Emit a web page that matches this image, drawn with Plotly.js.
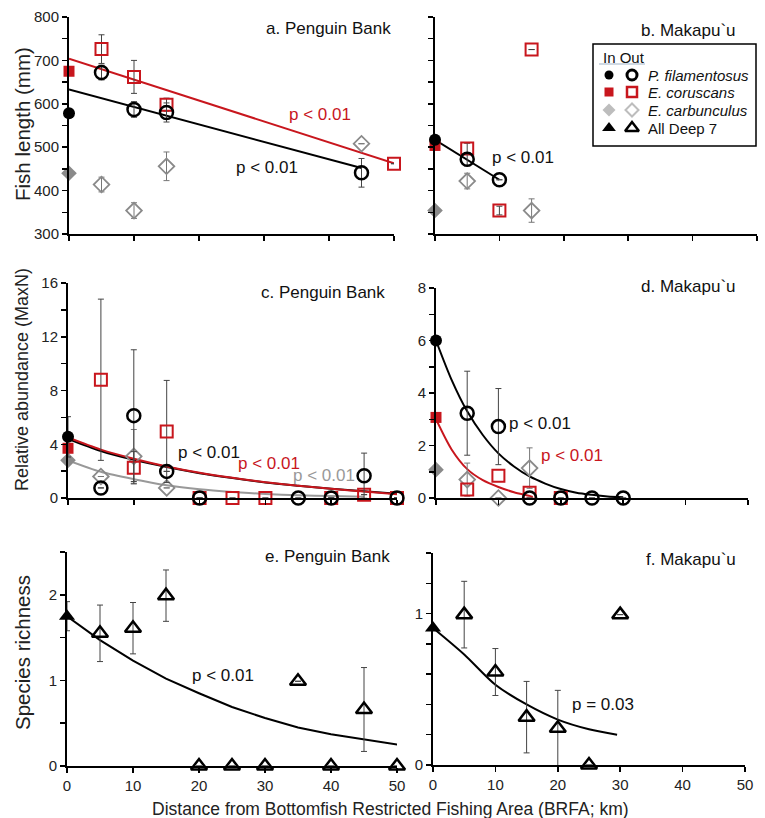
<!DOCTYPE html>
<html>
<head>
<meta charset="utf-8">
<script src="https://cdn.plot.ly/plotly-3.0.1.min.js"></script>
<style>html,body{margin:0;padding:0;background:#fff;}#chart{width:765px;height:818px;}</style>
</head>
<body>
<div id="chart"></div>
<script>
// ---------------- DATA ----------------
// Panel a: Penguin Bank, fish length (mm)
const aFilInX = [0], aFilInY = [578];
const aFilOutX = [5, 10, 15, 45], aFilOutY = [672, 587, 580, 441], aFilOutErr = [17, 18, 22, 33];
const aCorInX = [0], aCorInY = [675];
const aCorOutX = [5, 10, 15, 50], aCorOutY = [726, 662, 598, 462], aCorOutErr = [33, 38, 15, null];
const aCarInX = [0], aCarInY = [440];
const aCarOutX = [5, 10, 15, 45], aCarOutY = [414, 354, 456, 508], aCarOutErr = [17, 18, 33, null];
const aFilFitX = [0, 45], aFilFitY = [633, 452];
const aCorFitX = [0, 50], aCorFitY = [704, 463];

// Panel b: Makapu`u, fish length (mm)
const bFilInX = [0], bFilInY = [517];
const bFilOutX = [5, 10], bFilOutY = [472, 425], bFilOutErr = [15, null];
const bCorInX = [0], bCorInY = [504];
const bCorOutX = [5, 10, 15], bCorOutY = [497, 354, 725], bCorOutErr = [12, 10, null];
const bCarInX = [0], bCarInY = [354];
const bCarOutX = [5, 15], bCarOutY = [422, 354], bCarOutErr = [18, 27];
const bFilFitX = [0, 10], bFilFitY = [517, 425];

// Panel c: Penguin Bank, relative abundance (MaxN)
const cFilInX = [0], cFilInY = [4.55], cFilInErr = [1.5];
const cFilOutX = [5, 10, 15, 20, 35, 40, 45, 50], cFilOutY = [0.75, 6.13, 1.98, 0, 0, 0, 1.66, 0];
const cFilOutErr = [null, 4.9, null, null, null, null, 1.68, null];
const cCorInX = [0], cCorInY = [3.7];
const cCorOutX = [5, 10, 15, 20, 25, 30, 40, 45, 50], cCorOutY = [8.8, 2.25, 4.95, 0, 0, 0, 0, 0.25, 0];
const cCorOutErr = [6.0, 1.2, 3.8, null, null, null, null, null, null];
const cCarInX = [0], cCarInY = [2.8];
const cCarOutX = [5, 10, 15], cCarOutY = [1.6, 3.1, 0.75], cCarOutErr = [null, 2.0, null];
const cFitX = [0, 5, 10, 15, 20, 25, 30, 35, 40, 45, 50];
const cFilFitY = [4.4, 3.5, 2.84, 2.3, 1.85, 1.48, 1.16, 0.91, 0.68, 0.5, 0.32];
const cCorFitY = [4.5, 3.6, 2.92, 2.35, 1.88, 1.5, 1.18, 0.92, 0.68, 0.48, 0.28];
const cCarFitX = [0, 5, 10, 15, 20, 25, 30, 35, 40, 45];
const cCarFitY = [2.8, 1.95, 1.4, 0.95, 0.65, 0.45, 0.3, 0.2, 0.14, 0.1];

// Panel d: Makapu`u, relative abundance (MaxN)
const dFilInX = [0], dFilInY = [6.0];
const dFilOutX = [5, 10, 15, 20, 25, 30], dFilOutY = [3.23, 2.72, 0, 0, 0, 0];
const dFilOutErr = [1.6, 1.45, null, null, null, null];
const dCorInX = [0], dCorInY = [3.07];
const dCorOutX = [5, 10, 15, 20], dCorOutY = [0.32, 0.85, 0.2, 0];
const dCarInX = [0], dCarInY = [1.08];
const dCarOutX = [5, 10, 15], dCarOutY = [0.7, 0, 1.14], dCarOutErr = [0.63, null, 0.77];
const dFilFitX = [0, 2.5, 5, 7.5, 10, 12.5, 15, 17.5, 20, 22.5, 25, 27.5, 30];
const dFilFitY = [6.0, 4.5, 3.3, 2.4, 1.7, 1.2, 0.82, 0.55, 0.34, 0.2, 0.12, 0.06, 0.03];
const dCorFitX = [0, 2.5, 5, 7.5, 10, 12.5, 15, 15.5];
const dCorFitY = [3.0, 1.85, 1.1, 0.68, 0.42, 0.22, 0.08, 0.04];

// Panel e: Penguin Bank, species richness (All Deep 7)
const eInX = [0], eInY = [1.75], eInErr = [0.17];
const eOutX = [5, 10, 15, 20, 25, 30, 35, 40, 45, 50];
const eOutY = [1.55, 1.61, 1.99, 0, 0, 0, 0.99, 0, 0.66, 0];
const eOutErr = [0.33, 0.3, 0.3, null, null, null, null, null, 0.49, null];
const eFitX = [0, 5, 10, 15, 20, 25, 30, 35, 40, 45, 51];
const eFitY = [1.75, 1.47, 1.23, 1.02, 0.85, 0.69, 0.56, 0.45, 0.37, 0.31, 0.24];

// Panel f: Makapu`u, species richness (All Deep 7)
const fInX = [0], fInY = [0.905];
const fOutX = [5, 10, 15, 20, 25, 30], fOutY = [0.993, 0.614, 0.316, 0.243, 0, 0.993];
const fOutErr = [0.22, 0.155, 0.236, 0.25, null, null];
const fFitX = [0, 5, 10, 15, 20, 25, 29.5];
const fFitY = [0.905, 0.73, 0.53, 0.4, 0.3, 0.236, 0.2];

// Tick values / labels
const xTicks = [0, 10, 20, 30, 40, 50];
const lenTicks = [300, 350, 400, 450, 500, 550, 600, 650, 700, 750, 800];
const lenLabels = ['300', '', '400', '', '500', '', '600', '', '700', '', '800'];
const cTicks = [0, 2, 4, 6, 8, 10, 12, 14, 16];
const cLabels = ['0', '', '4', '', '8', '', '12', '', '16'];
const dTicks = [0, 1, 2, 3, 4, 5, 6, 7, 8];
const dLabels = ['0', '', '2', '', '4', '', '6', '', '8'];
const eTicks = [0, 0.5, 1, 1.5, 2, 2.5];
const eLabels = ['0', '', '1', '', '2', ''];
const fTicks = [0, 0.2, 0.4, 0.6, 0.8, 1.0, 1.2, 1.4];
const fLabels = ['0', '', '', '', '', '1', '', ''];

const legendRows = ['P. filamentosus', 'E. coruscans', 'E. carbunculus', 'All Deep 7'];

// ---------------- STYLE ----------------
const W = 765, H = 818;
const FONT = 'Liberation Sans, Arial, Helvetica, sans-serif';
const RED = '#c8161d';
const GREY = '#8a8a8a';
const LGREY = '#bdbdbd';
const px = x => x / W;
const py = y => 1 - y / H;

const S = {
  filIn: {symbol: 'circle', size: 12, color: '#000'},
  filOut: {symbol: 'circle-open', size: 13, color: '#000', line: {width: 2.5}},
  corIn: {symbol: 'square', size: 11, color: RED},
  corOut: {symbol: 'square-open', size: 12, color: RED, line: {width: 2}},
  carIn: {symbol: 'diamond', size: 12, color: GREY},
  carOut: {symbol: 'diamond-open', size: 12, color: GREY, line: {width: 1.8}},
  d7In: {symbol: 'triangle-up', size: 14, color: '#000'},
  d7Out: {symbol: 'triangle-up-open', size: 14, color: '#000', line: {width: 2.5}}
};

function pts(n, x, y, err, marker, errColor) {
  const t = {
    type: 'scatter', mode: 'markers', x: x, y: y, xaxis: 'x' + n, yaxis: 'y' + n,
    marker: marker, cliponaxis: false, showlegend: false, hoverinfo: 'x+y'
  };
  if (err) t.error_y = {type: 'data', array: err, visible: true, color: errColor || '#444', thickness: 1, width: 3};
  return t;
}
function fit(n, x, y, color, shape) {
  return {type: 'scatter', mode: 'lines', x: x, y: y, xaxis: 'x' + n, yaxis: 'y' + n,
    line: {color: color, width: 2, shape: shape || 'linear', smoothing: 0.8},
    cliponaxis: false, showlegend: false, hoverinfo: 'skip'};
}

const traces = [
  // a
  fit('', aFilFitX, aFilFitY, '#000'), fit('', aCorFitX, aCorFitY, RED),
  pts('', aCarInX, aCarInY, null, S.carIn), pts('', aCarOutX, aCarOutY, aCarOutErr, S.carOut, '#777'),
  pts('', aCorInX, aCorInY, null, S.corIn), pts('', aCorOutX, aCorOutY, aCorOutErr, S.corOut),
  pts('', aFilInX, aFilInY, null, S.filIn), pts('', aFilOutX, aFilOutY, aFilOutErr, S.filOut),
  // b
  fit('2', bFilFitX, bFilFitY, '#000'),
  pts('2', bCarInX, bCarInY, null, S.carIn), pts('2', bCarOutX, bCarOutY, bCarOutErr, S.carOut, '#777'),
  pts('2', bCorInX, bCorInY, null, S.corIn), pts('2', bCorOutX, bCorOutY, bCorOutErr, S.corOut),
  pts('2', bFilInX, bFilInY, null, S.filIn), pts('2', bFilOutX, bFilOutY, bFilOutErr, S.filOut),
  // c
  fit('3', cCarFitX, cCarFitY, '#999', 'spline'), fit('3', cFitX, cFilFitY, '#000', 'spline'), fit('3', cFitX, cCorFitY, RED, 'spline'),
  pts('3', cCarInX, cCarInY, null, S.carIn), pts('3', cCarOutX, cCarOutY, cCarOutErr, S.carOut, '#777'),
  pts('3', cCorInX, cCorInY, null, S.corIn), pts('3', cCorOutX, cCorOutY, cCorOutErr, S.corOut),
  pts('3', cFilInX, cFilInY, cFilInErr, S.filIn), pts('3', cFilOutX, cFilOutY, cFilOutErr, S.filOut),
  // d
  fit('4', dFilFitX, dFilFitY, '#000', 'spline'), fit('4', dCorFitX, dCorFitY, RED, 'spline'),
  pts('4', dCarInX, dCarInY, null, S.carIn), pts('4', dCarOutX, dCarOutY, dCarOutErr, S.carOut, '#777'),
  pts('4', dCorInX, dCorInY, null, S.corIn), pts('4', dCorOutX, dCorOutY, null, S.corOut),
  pts('4', dFilInX, dFilInY, null, S.filIn), pts('4', dFilOutX, dFilOutY, dFilOutErr, S.filOut),
  // e
  fit('5', eFitX, eFitY, '#000'),
  pts('5', eInX, eInY, eInErr, S.d7In), pts('5', eOutX, eOutY, eOutErr, S.d7Out),
  // f
  fit('6', fFitX, fFitY, '#000', 'spline'),
  pts('6', fInX, fInY, null, S.d7In), pts('6', fOutX, fOutY, fOutErr, S.d7Out)
];

// Legend symbols (drawn on a hidden helper axis, positions in pixel units of the legend box)
const LX0 = 593, LX1 = 756, LY0 = 44, LY1 = 146;
const rowY = [75, 92, 110, 128];
const inCol = 609, outCol = 632;
const legIn = [
  {symbol: 'circle', size: 9, color: '#000'},
  {symbol: 'square', size: 9, color: RED},
  {symbol: 'diamond', size: 10, color: LGREY},
  {symbol: 'triangle-up', size: 12, color: '#000'}
];
const legOut = [
  {symbol: 'circle-open', size: 10, color: '#000', line: {width: 3}},
  {symbol: 'square-open', size: 10, color: RED, line: {width: 2.5}},
  {symbol: 'diamond-open', size: 10, color: LGREY, line: {width: 2}},
  {symbol: 'triangle-up-open', size: 12, color: '#000', line: {width: 2.5}}
];
legendRows.forEach((name, i) => {
  traces.push({type: 'scatter', mode: 'markers', x: [inCol], y: [rowY[i]], xaxis: 'x7', yaxis: 'y7',
    marker: legIn[i], showlegend: false, hoverinfo: 'skip', cliponaxis: false});
  traces.push({type: 'scatter', mode: 'markers', x: [outCol], y: [rowY[i]], xaxis: 'x7', yaxis: 'y7',
    marker: legOut[i], showlegend: false, hoverinfo: 'skip', cliponaxis: false});
});

function xax(x0, x1, anchor, labels) {
  return {domain: [px(x0), px(x1)], range: [0, 50], anchor: anchor, tickvals: xTicks,
    showticklabels: labels, ticks: 'outside', ticklen: 5, tickwidth: 1.5, tickcolor: '#000',
    showline: true, linewidth: 2, linecolor: '#000', showgrid: false, zeroline: false,
    tickfont: {family: FONT, size: 15, color: '#222'}};
}
function yax(y0, y1, anchor, range, vals, text) {
  const a = {domain: [py(y1), py(y0)], range: range, anchor: anchor, tickvals: vals,
    ticks: 'outside', ticklen: 5, tickwidth: 1.5, tickcolor: '#000',
    showline: true, linewidth: 2, linecolor: '#000', showgrid: false, zeroline: false,
    tickfont: {family: FONT, size: 15, color: '#222'}};
  if (text) a.ticktext = text; else a.showticklabels = false;
  return a;
}

function ann(x, y, text, opts) {
  return Object.assign({xref: 'paper', yref: 'paper', x: px(x), y: py(y), text: text, showarrow: false,
    xanchor: 'center', yanchor: 'middle', font: {family: FONT, size: 17, color: '#111'}}, opts || {});
}

const annotations = [
  ann(393, 28, 'a. Penguin Bank', {xanchor: 'right'}),
  ann(738, 30, 'b. Makapu`u', {xanchor: 'right'}),
  ann(387, 292, 'c. Penguin Bank', {xanchor: 'right'}),
  ann(738, 287, 'd. Makapu`u', {xanchor: 'right'}),
  ann(392, 556, 'e. Penguin Bank', {xanchor: 'right'}),
  ann(738, 559, 'f. Makapu`u', {xanchor: 'right'}),
  ann(320, 115, 'p < 0.01', {font: {family: FONT, size: 17, color: RED}}),
  ann(267, 167, 'p < 0.01'),
  ann(523, 158, 'p < 0.01'),
  ann(209, 452, 'p < 0.01'),
  ann(269, 463, 'p < 0.01', {font: {family: FONT, size: 17, color: RED}}),
  ann(324, 475, 'p < 0.01', {font: {family: FONT, size: 17, color: '#999'}}),
  ann(540, 423, 'p < 0.01'),
  ann(572, 455, 'p < 0.01', {font: {family: FONT, size: 17, color: RED}}),
  ann(223, 675, 'p < 0.01'),
  ann(603, 704, 'p = 0.03'),
  ann(22, 124, 'Fish length (mm)', {textangle: -90, font: {family: FONT, size: 20.5, color: '#222'}}),
  ann(22, 380, 'Relative abundance (MaxN)', {textangle: -90, font: {family: FONT, size: 18, color: '#222'}}),
  ann(22, 653, 'Species richness', {textangle: -90, font: {family: FONT, size: 20.5, color: '#222'}}),
  ann(390, 809, 'Distance from Bottomfish Restricted Fishing Area (BRFA; km)', {font: {family: FONT, size: 17.5, color: '#222'}})
];
// Legend texts
annotations.push({xref: 'x7', yref: 'y7', x: 601, y: 57, text: 'In Out', showarrow: false,
  xanchor: 'left', yanchor: 'middle', font: {family: FONT, size: 15, color: '#111'}});
legendRows.forEach((name, i) => {
  annotations.push({xref: 'x7', yref: 'y7', x: 646, y: rowY[i], text: i < 3 ? '<i>' + name + '</i>' : name,
    showarrow: false, xanchor: 'left', yanchor: 'middle', font: {family: FONT, size: 15, color: '#111'}});
});

const shapes = [
  {type: 'rect', xref: 'paper', yref: 'paper', x0: px(LX0), x1: px(LX1), y0: py(LY1), y1: py(LY0),
    line: {color: '#000', width: 1.5}, fillcolor: 'rgba(255,255,255,0)'},
  {type: 'line', xref: 'paper', yref: 'paper', x0: px(599), x1: px(645), y0: py(64), y1: py(64),
    line: {color: '#9fb3c8', width: 1}}
];

const layout = {
  width: W, height: H, margin: {l: 0, r: 0, t: 0, b: 0},
  paper_bgcolor: '#fff', plot_bgcolor: 'rgba(0,0,0,0)', showlegend: false,
  font: {family: FONT},
  xaxis: xax(69, 394, 'y', false),
  yaxis: yax(17, 234, 'x', [300, 800], lenTicks, lenLabels),
  xaxis2: xax(435, 757, 'y2', false),
  yaxis2: yax(17, 234, 'x2', [300, 800], lenTicks, null),
  xaxis3: xax(68, 397, 'y3', false),
  yaxis3: yax(283, 498, 'x3', [0, 16], cTicks, cLabels),
  xaxis4: xax(436, 748, 'y4', false),
  yaxis4: yax(288, 498, 'x4', [0, 8], dTicks, dLabels),
  xaxis5: xax(67, 397, 'y5', true),
  yaxis5: yax(552, 766, 'x5', [0, 2.5], eTicks, eLabels),
  xaxis6: xax(433, 745, 'y6', true),
  yaxis6: yax(553, 765, 'x6', [0, 1.4], fTicks, fLabels),
  xaxis7: {domain: [px(LX0), px(LX1)], range: [LX0, LX1], anchor: 'y7', visible: false, fixedrange: true},
  yaxis7: {domain: [py(LY1), py(LY0)], range: [LY1, LY0], anchor: 'x7', visible: false, fixedrange: true},
  annotations: annotations,
  shapes: shapes
};

Plotly.newPlot('chart', traces, layout, {staticPlot: true, displayModeBar: false});
</script>
</body>
</html>
